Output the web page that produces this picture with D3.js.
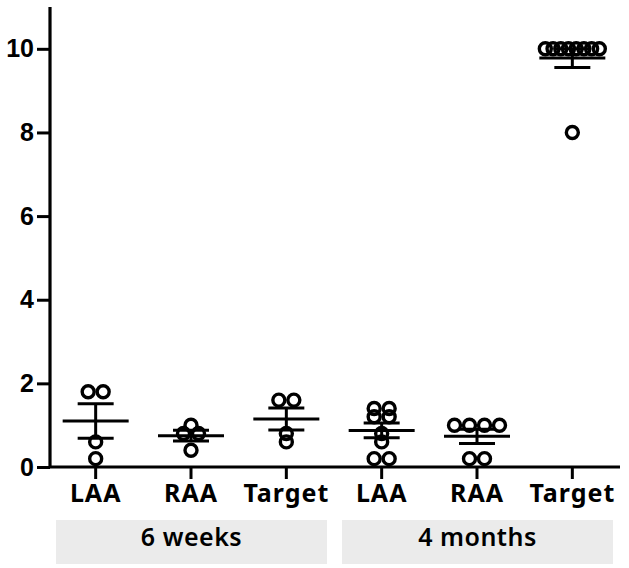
<!DOCTYPE html>
<html>
<head>
<meta charset="utf-8">
<script src="https://cdn.jsdelivr.net/npm/d3@7"></script>
<style>
  body { margin: 0; background: #fff; }
  #chart { width: 629px; height: 568px; }
</style>
</head>
<body>
<div id="chart"></div>
<script>
// data
const categories = ["LAA", "RAA", "Target", "LAA", "RAA", "Target"];
const groups = ["6 weeks", "4 months"];
const groupOf = [0, 0, 0, 1, 1, 1];
const values = [
    [1.8, 1.8, 0.6, 0.2],                          // 6 weeks LAA
    [0.8, 0.8, 1.0, 0.4],                          // 6 weeks RAA
    [1.6, 1.6, 0.8, 0.6],                          // 6 weeks Target
    [1.4, 1.4, 1.2, 1.2, 0.8, 0.6, 0.2, 0.2],      // 4 months LAA
    [1.0, 1.0, 1.0, 1.0, 0.2, 0.2],                // 4 months RAA
    [10, 10, 10, 10, 10, 10, 10, 10, 8]            // 4 months Target
];
const yTicks = [0, 2, 4, 6, 8, 10];

const width = 629, height = 568;
const margin = {top: 7, left: 50, right: 9};
const axisY = 467;

const svg = d3.select("#chart").append("svg")
    .attr("width", width)
    .attr("height", height);

const x = d3.scaleBand()
    .domain(d3.range(categories.length))
    .range([48, width - margin.right])
    .padding(0);

const y = d3.scaleLinear()
    .domain([0, 11])
    .range([axisY, margin.top]);

const cx = i => x(i) + x.bandwidth() / 2;

// y axis
const yAxis = svg.append("g")
    .attr("transform", `translate(${margin.left},0)`)
    .call(d3.axisLeft(y).tickValues(yTicks).tickSize(13).tickPadding(3).tickFormat(d3.format("d")));
yAxis.select(".domain").attr("d", `M0,${y(11)}V${axisY}`).attr("stroke-width", 3.2);
yAxis.selectAll(".tick line").attr("stroke-width", 3);
yAxis.selectAll(".tick text")
    .attr("font-family", "Liberation Sans, Arial, sans-serif")
    .attr("font-weight", "bold")
    .attr("font-size", 25)
    .attr("fill", "#000");

// x axis
const xAxis = svg.append("g")
    .attr("transform", `translate(0,${axisY})`);
xAxis.append("line")
    .attr("x1", margin.left).attr("x2", width - margin.right)
    .attr("stroke", "#000").attr("stroke-width", 3.2);
xAxis.selectAll(".xtick")
    .data(categories)
    .enter().append("line")
    .attr("x1", (d, i) => cx(i)).attr("x2", (d, i) => cx(i))
    .attr("y1", 0).attr("y2", 12)
    .attr("stroke", "#000").attr("stroke-width", 3);
xAxis.selectAll(".xlabel")
    .data(categories)
    .enter().append("text")
    .attr("x", (d, i) => cx(i))
    .attr("y", 35)
    .attr("text-anchor", "middle")
    .attr("font-family", "Noto Sans, Open Sans, sans-serif")
    .attr("font-weight", "bold")
    .attr("font-size", 25)
    .attr("letter-spacing", 1)
    .text(d => d);

// group boxes
groups.forEach((g, gi) => {
    const idx = d3.range(categories.length).filter(i => groupOf[i] === gi);
    const left = x(idx[0]) + 8;
    const right = x(idx[idx.length - 1]) + x.bandwidth() - 7;
    svg.append("rect")
        .attr("x", left).attr("y", 520)
        .attr("width", right - left).attr("height", 44)
        .attr("fill", "#ebebeb");
    svg.append("text")
        .attr("x", (left + right) / 2)
        .attr("y", 546)
        .attr("text-anchor", "middle")
        .attr("font-family", "Noto Sans, Open Sans, sans-serif")
        .attr("font-weight", 600)
        .attr("font-size", 25)
        .attr("letter-spacing", 0.5)
        .text(g);
});

// scatter points, spread points with equal value side by side
const plot = svg.append("g").attr("id", "plot");
values.forEach((vals, i) => {
    const bins = d3.group(vals, v => v.toFixed(1));
    const pts = [];
    bins.forEach(arr => {
        const n = arr.length;
        const sp = n > 1 ? Math.min(15, 54 / (n - 1)) : 0;
        arr.forEach((v, k) => pts.push({v: v, dx: (k - (n - 1) / 2) * sp}));
    });
    plot.selectAll(null)
        .data(pts)
        .enter().append("circle")
        .attr("cx", d => cx(i) + d.dx)
        .attr("cy", d => y(d.v))
        .attr("r", 6)
        .attr("fill", "none")
        .attr("stroke", "#000")
        .attr("stroke-width", 3.4);

    // mean and SEM
    const m = d3.mean(vals);
    const sem = d3.deviation(vals) / Math.sqrt(vals.length);
    const c = cx(i);
    const eb = plot.append("g").attr("stroke", "#000").attr("stroke-width", 3);
    eb.append("line").attr("x1", c - 33).attr("x2", c + 33).attr("y1", y(m)).attr("y2", y(m));
    eb.append("line").attr("x1", c).attr("x2", c).attr("y1", y(m + sem)).attr("y2", y(m - sem));
    eb.append("line").attr("x1", c - 18).attr("x2", c + 18).attr("y1", y(m + sem)).attr("y2", y(m + sem));
    eb.append("line").attr("x1", c - 18).attr("x2", c + 18).attr("y1", y(m - sem)).attr("y2", y(m - sem));
});
</script>
</body>
</html>
